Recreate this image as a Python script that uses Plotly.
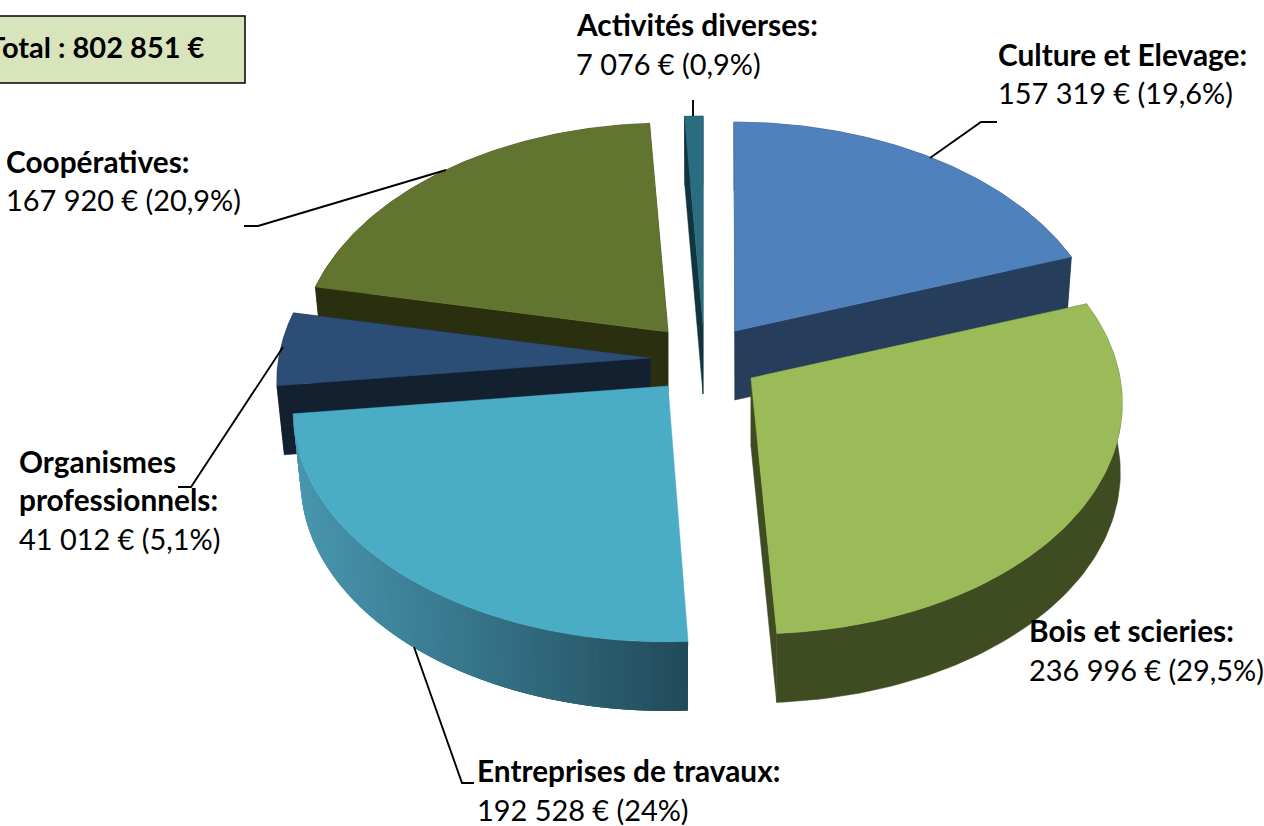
import math
import plotly.graph_objects as go

# ---- data ----
categories = ["Culture et Elevage:", "Bois et scieries:", "Entreprises de travaux:",
              "Organismes|professionnels:", "Coopératives:", "Activités diverses:"]
amounts = [157319, 236996, 192528, 41012, 167920, 7076]
total_label = "Total : 802 851 €"

# ---- styles ----
top_colors = ["#4f81bd", "#9bbb59", "#4bacc6", "#2c4d75", "#627530", "#2a6c80"]
side_colors = ["#273d5c", "#3f4c22", None, "#12202f", "#2a2f10", "#10353f"]
apexes = [(735, 331), (751, 378), (668, 386), (650, 358), (668, 332), (703, 325)]
x_scale = [1.0, 1.0, 1.01, 1.006, 0.995, 1.0]
x_skew = [-1, -3, 3, 0, 0, 0]
x_shrink = [0.985, 0.995, 0.98, 0.98, 0.98, 0.98]
draw_order = [5, 0, 4, 3, 1, 2]
A, B, K = 369.0, 230.0, 0.101   # perspective disc
DEPTH = 69.0
FONT = "Lato"
FS_BOLD = 29.8
FS_VALUE = 28.9
FS_TOTAL = 29.0

total = sum(amounts)
angles = [0.0]
for v in amounts:
    angles.append(angles[-1] + v / total * 2 * math.pi)


def rim(i, t, low=False):
    d = 1 + K * math.cos(t)
    x = A * math.sin(t) / d * x_scale[i] + x_skew[i] * math.cos(t)
    y = -B * math.cos(t) / d
    ax, ay = apexes[i]
    if low:
        return ax + x * x_shrink[i], ay + y + DEPTH
    return ax + x, ay + y


def sweep(a, b, n):
    return [a + (b - a) * k / n for k in range(n + 1)]


fig = go.Figure()


def poly(pts, color, lw=0.5):
    fig.add_trace(go.Scatter(x=[p[0] for p in pts] + [pts[0][0]], y=[p[1] for p in pts] + [pts[0][1]],
                             mode="lines", fill="toself", fillcolor=color, line=dict(color=color, width=lw),
                             hoverinfo="skip", showlegend=False))


def mix(c1, c2, f):
    return "rgb(%d,%d,%d)" % tuple(round(c1[j] + (c2[j] - c1[j]) * f) for j in range(3))


for i in draw_order:
    a, b = angles[i], angles[i + 1]
    ax, ay = apexes[i]
    ts = sweep(a, b, 90)
    if side_colors[i] is None:
        # outer wall with horizontal gradient: strips overlap so no seams show
        n = 110
        st = sweep(a, b, n)
        xs = [rim(i, t)[0] for t in st]
        xl, xr = min(xs), max(xs)
        for k in range(n):
            f = (0.5 * (xs[k] + xs[k + 1]) - xl) / (xr - xl)
            col = mix((31, 72, 87), (72, 150, 175), 1 - f)
            e = max(0, k - 2)
            poly([rim(i, st[j]) for j in range(e, k + 2)] + [rim(i, st[j], True) for j in range(k + 1, e - 1, -1)],
                 col, 0)
    else:
        col = side_colors[i]
        poly([rim(i, t) for t in ts] + [rim(i, t, True) for t in reversed(ts)], col)
        for t in (a, b):
            poly([(ax, ay), rim(i, t), rim(i, t, True), (ax, ay + DEPTH)], col)
    poly([(ax, ay)] + [rim(i, t) for t in ts], top_colors[i])

# leader lines
leaders = [
    ([930, 981, 997], [158, 122, 122]),
    ([446, 258, 244], [170, 226, 226]),
    ([693, 693], [100, 116]),
    ([283, 191, 178], [347, 487, 487]),
    ([414, 462, 474], [647, 783, 783]),
]
for xs, ys in leaders:
    fig.add_trace(go.Scatter(x=xs, y=ys, mode="lines", line=dict(color="black", width=1.9),
                             hoverinfo="skip", showlegend=False))


def value_text(v):
    pct = round(v / total * 100, 1)
    p = ("%.1f" % pct).replace(".", ",")
    if p.endswith(",0"):
        p = p[:-2]
    s = f"{v:,}".replace(",", " ")
    return f"{s} € ({p}%)"


label_pos = [(996, [54.5, 92.5]), (1027, [630.5, 669.5]), (475, [770.5, 809.5]),
             (17, [461.5, 499.5, 538.5]), (4, [161.5, 199.5]), (574, [24.5, 63.5])]
ann = []
for i, (lx, lys) in enumerate(label_pos):
    names = categories[i].split("|")
    lines = [("<b>%s</b>" % s, FS_BOLD) for s in names] + [(value_text(amounts[i]), FS_VALUE)]
    for (t, fs), ly in zip(lines, lys):
        ann.append(dict(x=lx, y=ly, xref="x", yref="y", text=t, showarrow=False, xanchor="left", yanchor="middle",
                        font=dict(family=FONT, size=fs, color="black")))
ann.append(dict(x=207, y=46, xref="x", yref="y", text="<b>%s</b>" % total_label, showarrow=False, xanchor="right",
                yanchor="middle", font=dict(family=FONT, size=FS_TOTAL, color="black")))

fig.update_layout(
    width=1264, height=826, margin=dict(l=0, r=0, t=0, b=0),
    paper_bgcolor="white", plot_bgcolor="white", showlegend=False,
    xaxis=dict(range=[0, 1264], visible=False, fixedrange=True),
    yaxis=dict(range=[826, 0], visible=False, fixedrange=True),
    annotations=ann,
    shapes=[dict(type="rect", xref="x", yref="y", x0=-5, x1=245, y0=16, y1=83,
                 fillcolor="#d8e4bc", line=dict(color="black", width=1.5), layer="below")],
)
fig.write_html("out.html", config=dict(displayModeBar=False),
               post_script="document.body.style.margin='0';")
